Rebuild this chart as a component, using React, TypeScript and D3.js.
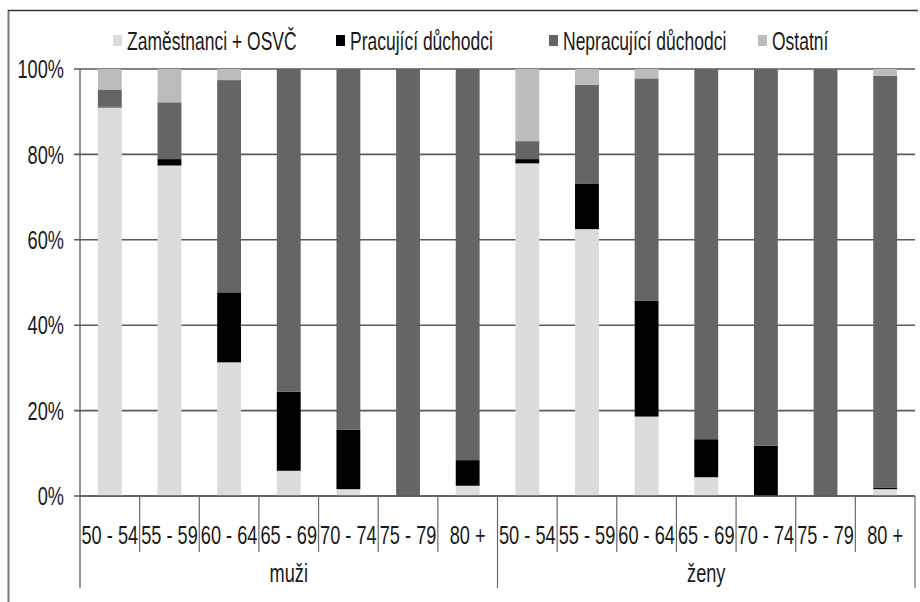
import React from "react";
import { scaleBand, scaleLinear, stack } from "d3";

const ageGroups = ["50 - 54", "55 - 59", "60 - 64", "65 - 69", "70 - 74", "75 - 79", "80 +"];
const sexes = ["muži", "ženy"];
const seriesNames = ["Zaměstnanci + OSVČ", "Pracující důchodci", "Nepracující důchodci", "Ostatní"];
const seriesColors = ["#dcdcdc", "#000000", "#656565", "#bcbcbc"];

// muži (7) then ženy (7), percent
const zamestnanci = [91.0, 77.4, 31.3, 5.9, 1.6, 0, 2.4, 77.9, 62.5, 18.6, 4.4, 0, 0, 1.6];
const pracujici = [0.2, 1.5, 16.4, 18.5, 13.9, 0, 6.0, 1.0, 10.7, 27.1, 8.9, 11.8, 0, 0.3];
const nepracujici = [4.0, 13.3, 49.7, 75.6, 84.5, 100, 91.6, 4.2, 23.1, 52.1, 86.7, 88.2, 100, 96.5];
const ostatni = [4.8, 7.8, 2.6, 0, 0, 0, 0, 16.9, 3.7, 2.2, 0, 0, 0, 1.6];
const yTicks = [0, 20, 40, 60, 80, 100];

const FONT = "'Liberation Sans', Arial, sans-serif";

// the reference uses a narrow, tall font, so squeeze a regular one horizontally
function NText({ x, y, anchor = "start", size = 26, children }: any) {
  return (
    <g transform={`translate(${x},${y}) scale(0.7,1)`}>
      <text x={0} y={0} dy="0.35em" textAnchor={anchor} fontSize={size} fill="#1a1a1a">
        {children}
      </text>
    </g>
  );
}

export default function App() {
  const left = 80;
  const right = 915;
  const top = 69;
  const bottom = 496;

  const rows = sexes.flatMap((s, si) =>
    ageGroups.map((a, ai) => {
      const i = si * ageGroups.length + ai;
      return {
        key: s + "|" + a,
        age: a,
        s0: zamestnanci[i],
        s1: pracujici[i],
        s2: nepracujici[i],
        s3: ostatni[i],
      };
    })
  );

  const x = scaleBand().domain(rows.map((r) => r.key)).range([left, right]);
  const y = scaleLinear().domain([0, 100]).range([bottom, top]);
  const barW = x.bandwidth() * 0.4;

  const layers = stack().keys(["s0", "s1", "s2", "s3"])(rows as any);

  const groupX = scaleLinear().domain([0, sexes.length]).range([left, right]);

  // legend positions (x of marker)
  const legendX = [113, 336, 549, 758];

  return (
    <svg
      width={920}
      height={602}
      style={{ position: "absolute", left: 0, top: 0, display: "block", background: "#fff" }}
      fontFamily={FONT}
    >
      {/* frame */}
      <line x1={8.5} x2={8.5} y1={10} y2={602} stroke="#7a7a7a" strokeWidth={2} />
      <line x1={8} x2={918} y1={10.5} y2={10.5} stroke="#333" strokeWidth={1.5} />

      {/* gridlines */}
      {yTicks.map((t) => (
        <g key={t}>
          <line x1={left - 6} x2={right} y1={y(t)} y2={y(t)} stroke="#5a5a5a" strokeWidth={1.6} />
          <NText x={64} y={y(t)} anchor="end">
            {t}%
          </NText>
        </g>
      ))}

      {/* bars */}
      {layers.map((layer, li) => (
        <g key={li} fill={seriesColors[li]}>
          {layer.map((d: any, i) => {
            const h = y(d[0]) - y(d[1]);
            if (h <= 0) return null;
            return (
              <rect
                key={i}
                x={(x(rows[i].key) as number) + (x.bandwidth() - barW) / 2}
                y={y(d[1])}
                width={barW}
                height={h}
              />
            );
          })}
        </g>
      ))}

      {/* axes */}
      <line x1={left} x2={left} y1={top} y2={588} stroke="#5a5a5a" strokeWidth={1.3} />
      <line x1={left} x2={right} y1={bottom} y2={bottom} stroke="#5a5a5a" strokeWidth={1.6} />

      {rows.map((r, i) => {
        const bx = (x(r.key) as number) + x.bandwidth();
        const isGroupEnd = (i + 1) % ageGroups.length === 0;
        return (
          <g key={r.key}>
            <line
              x1={bx}
              x2={bx}
              y1={bottom}
              y2={isGroupEnd ? 588 : 552}
              stroke="#6a6a6a"
              strokeWidth={1.2}
            />
            <NText x={(x(r.key) as number) + x.bandwidth() / 2} y={535} anchor="middle">
              {r.age}
            </NText>
          </g>
        );
      })}

      {sexes.map((s, i) => (
        <NText key={s} x={(groupX(i) + groupX(i + 1)) / 2} y={573} anchor="middle">
          {s}
        </NText>
      ))}

      {/* legend */}
      {seriesNames.map((n, i) => (
        <g key={n}>
          <rect x={legendX[i]} y={35} width={9} height={11} fill={seriesColors[i]} />
          <NText x={legendX[i] + 14} y={41} size={25}>
            {n}
          </NText>
        </g>
      ))}
    </svg>
  );
}
